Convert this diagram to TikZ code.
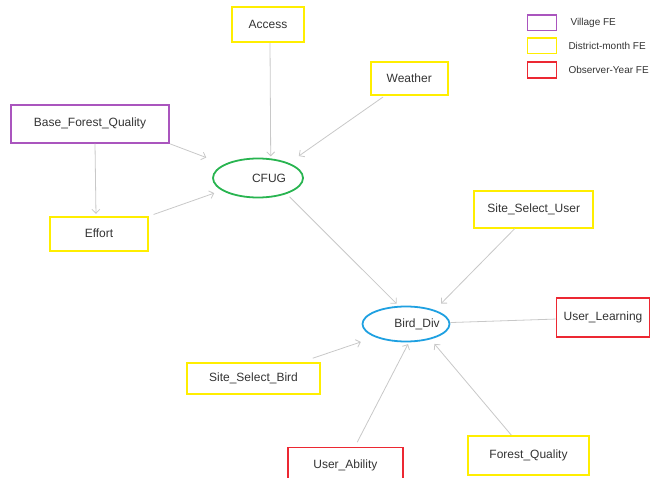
\documentclass[tikz,border=0pt]{standalone}
\usepackage{fontspec}
\setmainfont{Liberation Sans}
\usetikzlibrary{arrows.meta,positioning,shapes.geometric}
\definecolor{villagecol}{RGB}{170,85,190}
\definecolor{districtcol}{RGB}{255,238,0}
\definecolor{observercol}{RGB}{236,40,50}
\definecolor{cfugcol}{RGB}{40,180,80}
\definecolor{birdcol}{RGB}{30,160,225}
\definecolor{linkcol}{RGB}{200,200,200}
\newcommand{\ovaltext}[1]{\makebox[0pt]{\hspace*{22pt}#1}}
\tikzset{
	febox/.style={draw, rectangle, line width=1.8pt, inner sep=0pt, font=\fontsize{12}{14}\selectfont, text=black!80},
	village/.style={febox, draw=villagecol},
	district/.style={febox, draw=districtcol},
	observer/.style={febox, draw=observercol},
	oval/.style={ellipse, draw, line width=1.8pt, inner sep=0pt, font=\fontsize{12}{14}\selectfont, text=black!80},
	link/.style={draw=linkcol, line width=0.8pt, -{Straight Barb[length=4pt,width=8pt]}},
	keybox/.style={draw, line width=1.6pt, minimum width=29pt, minimum height=15.5pt, inner sep=0pt},
	keytext/.style={font=\fontsize{10}{12}\selectfont, text=black!80, inner sep=0pt}
}

\begin{document}
\begin{tikzpicture}[x=1pt, y=-1pt]
	\useasboundingbox (0,0) rectangle (652,478);
	\node[district, minimum width=72.6pt, minimum height=35.6pt] (access) at (268,24.5) {Access};
	\node[district, minimum width=77pt, minimum height=32.7pt] (weather) at (409.2,78.7) {Weather};
	\node[village, minimum width=158pt, minimum height=37.7pt] (bfq) at (90,123.8) {Base\_Forest\_Quality};
	\node[district, minimum width=98pt, minimum height=34pt] (effort) at (99,233.7) {Effort};
	\node[oval, draw=cfugcol, minimum width=90pt, minimum height=39pt] (cfug) at (258,178) {\ovaltext{CFUG}};
	\node[district, minimum width=119.3pt, minimum height=36.7pt] (ssu) at (533.7,209.3) {Site\_Select\_User};
	\node[observer, minimum width=93pt, minimum height=38.4pt] (ul) at (603,317.5) {User\_Learning};
	\node[oval, draw=birdcol, minimum width=87pt, minimum height=35pt] (bird) at (406,324) {\ovaltext{Bird\_Div}};
	\node[district, minimum width=133pt, minimum height=31.3pt] (ssb) at (253.5,378.3) {Site\_Select\_Bird};
	\node[observer, minimum width=114.7pt, minimum height=35pt] (ua) at (345.4,465) {User\_Ability};
	\node[district, minimum width=121.6pt, minimum height=39pt] (fq) at (528.5,455.5) {Forest\_Quality};

	\draw[link, shorten >=2pt] ([xshift=2pt]access.south) -- (cfug.57);
	\draw[link, shorten <=2pt, shorten >=12pt] (weather) -- (cfug.26);
	\draw[link, shorten <=1pt, shorten >=19pt] (bfq.-14) -- (cfug.158);
	\draw[link, shorten >=2pt] ([xshift=5pt]bfq.south) -- ([xshift=-3pt]effort.north);
	\draw[link, shorten <=5pt, shorten >=8pt] (effort) -- (cfug.199);
	\draw[link, shorten <=4pt, shorten >=3pt] (cfug.-29) -- (bird.112);
	\draw[link, shorten >=9pt] (ssu) -- (bird.26);
	\draw[link, -] (ul) -- (bird);
	\draw[link, shorten <=11pt, shorten >=15pt] (ssb) -- (bird.203);
	\draw[link, shorten <=5pt, shorten >=2pt] (ua) -- (bird.-81);
	\draw[link, shorten >=6pt] (fq) -- (bird.-32);

	\node[keybox, draw=villagecol] (keyvil) at (542,22.8) {};
	\node[keybox, draw=districtcol, below=6pt of keyvil] (keydist) {};
	\node[keybox, draw=observercol, below=7pt of keydist] (keyobs) {};
	\node[keytext, right=13pt of keyvil] (keyvillabel) {Village FE};
	\node[keytext, right=11pt of keydist] (keydistlabel) {District-month FE};
	\node[keytext, right=11pt of keyobs] (keyobslabel) {Observer-Year FE};
\end{tikzpicture}
\end{document}
